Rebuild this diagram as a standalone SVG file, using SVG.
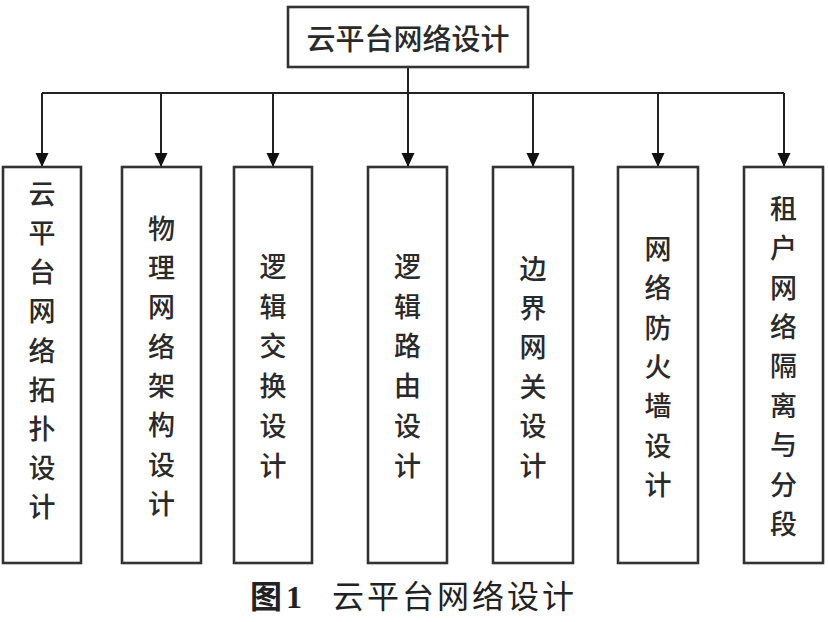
<svg xmlns="http://www.w3.org/2000/svg" width="828" height="622" viewBox="0 0 828 622">
<defs>
<marker id="arr" markerUnits="userSpaceOnUse" markerWidth="14" markerHeight="14" viewBox="0 0 14 14" refX="14" refY="7" orient="auto">
<path d="M0,0.5 L14,7 L0,13.5 z" fill="#111"/>
</marker>
<style>
.box{fill:#fff;stroke:#333;stroke-width:2.6}
.ln{fill:none;stroke:#222;stroke-width:2}
.t{font-family:"Noto Sans CJK SC","Noto Sans",sans-serif;font-size:27px;fill:#2a2a2a;text-anchor:middle;dominant-baseline:central;font-weight:500}
.cap{font-family:"Noto Sans CJK SC","Noto Sans",sans-serif;font-size:32px;fill:#222}
</style>
</defs>
<rect width="828" height="622" fill="#fff"/>
<g id="connectors">
<path class="ln" d="M408,67 V93 M42,93 H784"/>
<path class="ln" marker-end="url(#arr)" d="M42,93 V167"/>
<path class="ln" marker-end="url(#arr)" d="M161,93 V167"/>
<path class="ln" marker-end="url(#arr)" d="M273,93 V167"/>
<path class="ln" marker-end="url(#arr)" d="M408,93 V167"/>
<path class="ln" marker-end="url(#arr)" d="M533,93 V167"/>
<path class="ln" marker-end="url(#arr)" d="M658,93 V167"/>
<path class="ln" marker-end="url(#arr)" d="M784,93 V167"/>
</g>
<g id="root">
<rect class="box" x="288" y="7" width="240" height="60"/>
<text class="t" x="408" y="37" style="font-size:29px">云平台网络设计</text>
</g>
<g id="n1">
<rect class="box" x="3" y="167" width="78" height="396"/>
<text class="t"><tspan x="42" y="191.7">云</tspan><tspan x="42" y="230.9">平</tspan><tspan x="42" y="270.1">台</tspan><tspan x="42" y="309.3">网</tspan><tspan x="42" y="348.5">络</tspan><tspan x="42" y="387.7">拓</tspan><tspan x="42" y="426.9">扑</tspan><tspan x="42" y="466.1">设</tspan><tspan x="42" y="505.3">计</tspan></text>
</g>
<g id="n2">
<rect class="box" x="122" y="167" width="79" height="396"/>
<text class="t"><tspan x="161.5" y="226.7">物</tspan><tspan x="161.5" y="266">理</tspan><tspan x="161.5" y="305.3">网</tspan><tspan x="161.5" y="344.6">络</tspan><tspan x="161.5" y="383.9">架</tspan><tspan x="161.5" y="423.2">构</tspan><tspan x="161.5" y="462.5">设</tspan><tspan x="161.5" y="501.8">计</tspan></text>
</g>
<g id="n3">
<rect class="box" x="234" y="167" width="78" height="396"/>
<text class="t"><tspan x="273" y="265">逻</tspan><tspan x="273" y="304.7">辑</tspan><tspan x="273" y="344.4">交</tspan><tspan x="273" y="384.1">换</tspan><tspan x="273" y="423.8">设</tspan><tspan x="273" y="463.5">计</tspan></text>
</g>
<g id="n4">
<rect class="box" x="368" y="167" width="79" height="396"/>
<text class="t"><tspan x="407.5" y="265">逻</tspan><tspan x="407.5" y="304.7">辑</tspan><tspan x="407.5" y="344.4">路</tspan><tspan x="407.5" y="384.1">由</tspan><tspan x="407.5" y="423.8">设</tspan><tspan x="407.5" y="463.5">计</tspan></text>
</g>
<g id="n5">
<rect class="box" x="493" y="167" width="80" height="396"/>
<text class="t"><tspan x="533" y="266.5">边</tspan><tspan x="533" y="305.9">界</tspan><tspan x="533" y="345.3">网</tspan><tspan x="533" y="384.7">关</tspan><tspan x="533" y="424.1">设</tspan><tspan x="533" y="463.5">计</tspan></text>
</g>
<g id="n6">
<rect class="box" x="618" y="167" width="80" height="396"/>
<text class="t"><tspan x="658" y="246.7">网</tspan><tspan x="658" y="286.1">络</tspan><tspan x="658" y="325.5">防</tspan><tspan x="658" y="364.9">火</tspan><tspan x="658" y="404.3">墙</tspan><tspan x="658" y="443.7">设</tspan><tspan x="658" y="483.1">计</tspan></text>
</g>
<g id="n7">
<rect class="box" x="744" y="167" width="79" height="396"/>
<text class="t"><tspan x="783.5" y="206.7">租</tspan><tspan x="783.5" y="246.1">户</tspan><tspan x="783.5" y="285.5">网</tspan><tspan x="783.5" y="324.9">络</tspan><tspan x="783.5" y="364.3">隔</tspan><tspan x="783.5" y="403.7">离</tspan><tspan x="783.5" y="443.1">与</tspan><tspan x="783.5" y="482.5">分</tspan><tspan x="783.5" y="521.9">段</tspan></text>
</g>
<g id="caption">
<text class="cap" x="250" y="608"><tspan font-weight="700">图</tspan><tspan font-family="'Liberation Serif',serif" font-weight="700" dx="4">1</tspan></text>
<text class="cap" x="332" y="608" textLength="242" lengthAdjust="spacing">云平台网络设计</text>
</g>
</svg>
